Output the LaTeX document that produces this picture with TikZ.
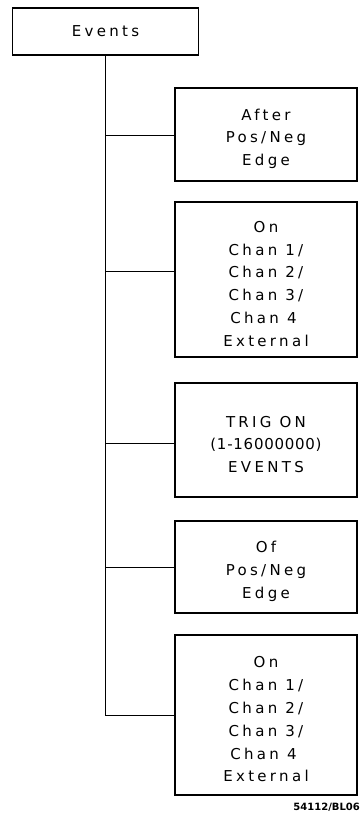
\documentclass[tikz,border=0pt]{standalone}
\usepackage{fontspec}
\newfontfamily\plotfont{DejaVu Sans}[LetterSpace=22]
\newfontfamily\tagfont{DejaVu Sans}
\usepackage{tikz}
\usetikzlibrary{positioning}

\newcommand{\toprow}{\rule{0pt}{20pt}}

\tikzset{
  menubox/.style={draw, line width=1.3pt, inner sep=0pt, minimum width=182pt, align=center},
  branch/.style={line width=1pt}
}

\begin{document}
\begin{tikzpicture}[x=1pt, y=-1pt, every node/.style={font=\plotfont\fontsize{15}{22.8}\selectfont}]
\useasboundingbox (0,0) rectangle (361,814);

\node[menubox, minimum width=186pt, minimum height=47pt] (root) at (105.5,31.5) {Events};

\node[menubox, minimum height=93pt]  (after) at (266,134.5) {\toprow After\\Pos/Neg\\Edge};
\node[menubox, minimum height=155pt] (onA)   at (266,279.5) {\toprow On\\Chan 1/\\Chan 2/\\Chan 3/\\Chan 4\phantom{/}\\External};
\node[menubox, minimum height=114pt] (trig)  at (266,440)   {\toprow TRIG ON\\{\addfontfeature{LetterSpace=5}(1-16000000)}\\EVENTS};
\node[menubox, minimum height=92pt]  (of)    at (266,567)   {\toprow Of\\Pos/Neg\\Edge};
\node[menubox, minimum height=160pt] (onB)   at (266,715)   {\toprow On\\Chan 1/\\Chan 2/\\Chan 3/\\Chan 4\phantom{/}\\External};

\draw[branch] (root.south) |- (onB.west);
\foreach \b/\y in {after/135,onA/271,trig/443,of/567} {
  \coordinate (t-\b) at (root.south |- 0,\y);
  \draw[branch] (t-\b) -- (t-\b -| \b.west);
}

\node[anchor=east, inner sep=0pt, font=\tagfont\bfseries\fontsize{10}{11}\selectfont] (tag) at (360,807) {54112/BL06};
\end{tikzpicture}
\end{document}
